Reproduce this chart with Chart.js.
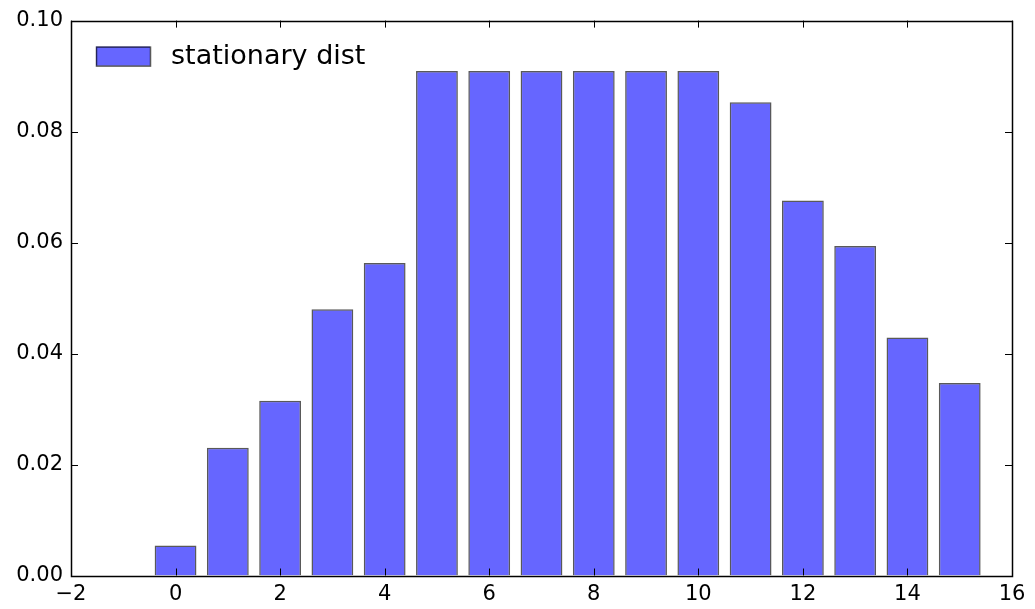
<!DOCTYPE html>
<html>
<head>
<meta charset="utf-8">
<script src="https://cdn.jsdelivr.net/npm/chart.js@4"></script>
<style>
  html, body { margin: 0; padding: 0; background: #ffffff; }
  #wrap { width: 1035px; height: 609px; }
</style>
</head>
<body>
<div id="wrap"><canvas id="c" width="1035" height="609"></canvas></div>
<script>
const categories = [0, 1, 2, 3, 4, 5, 6, 7, 8, 9, 10, 11, 12, 13, 14, 15];
const stationaryValues = [0.0054, 0.0230, 0.0315, 0.0480, 0.0563, 0.0909, 0.0909, 0.0909,
                          0.0909, 0.0909, 0.0909, 0.0853, 0.0676, 0.0594, 0.0429, 0.0347];
const seriesLabel = 'stationary dist';
const xTickValues = [-2, 0, 2, 4, 6, 8, 10, 12, 14, 16];
const yTickValues = [0.00, 0.02, 0.04, 0.06, 0.08, 0.10];

const FONT = '"DejaVu Sans", "Liberation Sans", sans-serif';

const framePlugin = {
  id: 'mplFrame',
  afterDraw(chart) {
    const ctx = chart.ctx;
    const a = chart.chartArea;
    const xs = chart.scales.x, ys = chart.scales.y;
    const L = 7;
    ctx.save();
    ctx.strokeStyle = '#000000';
    ctx.lineWidth = 1;
    ctx.beginPath();
    xs.ticks.forEach(t => {
      const px = Math.round(xs.getPixelForValue(t.value)) + 0.5;
      ctx.moveTo(px, a.bottom); ctx.lineTo(px, a.bottom - L);
      ctx.moveTo(px, a.top); ctx.lineTo(px, a.top + L);
    });
    ys.ticks.forEach(t => {
      const py = Math.round(ys.getPixelForValue(t.value)) + 0.5;
      ctx.moveTo(a.left, py); ctx.lineTo(a.left + L, py);
      ctx.moveTo(a.right, py); ctx.lineTo(a.right - L, py);
    });
    ctx.stroke();
    ctx.lineWidth = 1.5;
    ctx.strokeRect(Math.round(a.left) + 0.5, Math.round(a.top) + 0.5,
                   Math.round(a.right - a.left), Math.round(a.bottom - a.top));
    // legend (inside axes, upper left)
    const ds = chart.data.datasets[0];
    const bx = a.left + 25, by = a.top + 26, bw = 54, bh = 19;
    ctx.fillStyle = ds.backgroundColor;
    ctx.fillRect(bx, by, bw, bh);
    ctx.strokeStyle = ds.borderColor;
    ctx.lineWidth = 1.5;
    ctx.strokeRect(bx + 0.5, by + 0.5, bw, bh);
    ctx.fillStyle = '#000000';
    ctx.font = '27px ' + FONT;
    ctx.textBaseline = 'middle';
    ctx.textAlign = 'left';
    ctx.fillText(ds.label, bx + bw + 21, by + bh / 2 + 1);
    ctx.restore();
  }
};

new Chart(document.getElementById('c'), {
  type: 'bar',
  data: {
    datasets: [{
      label: seriesLabel,
      data: categories.map((c, i) => ({ x: c, y: stationaryValues[i] })),
      backgroundColor: 'rgba(0, 0, 255, 0.6)',
      borderColor: 'rgba(0, 0, 0, 0.65)',
      borderWidth: 1.5,
      categoryPercentage: 1.0,
      barPercentage: 0.8
    }]
  },
  options: {
    responsive: false,
    animation: false,
    devicePixelRatio: 1,
    layout: { padding: { left: 0, right: 23, top: 20, bottom: 0 } },
    plugins: {
      legend: { display: false },
      tooltip: { enabled: false }
    },
    scales: {
      x: {
        type: 'linear',
        offset: false,
        min: -2, max: 16,
        afterBuildTicks: s => { s.ticks = xTickValues.map(v => ({ value: v })); },
        afterFit: s => { s.height = 33.5; },
        grid: { display: false, drawTicks: false, offset: false },
        border: { display: false },
        ticks: {
          color: '#000000',
          padding: 6,
          maxRotation: 0,
          font: { family: FONT, size: 21 },
          callback: v => (v < 0 ? '\u2212' + Math.abs(v) : String(v))
        }
      },
      y: {
        type: 'linear',
        min: 0, max: 0.1,
        afterBuildTicks: s => { s.ticks = yTickValues.map(v => ({ value: v })); },
        afterFit: s => { s.width = 71; },
        grid: { display: false, drawTicks: false },
        border: { display: false },
        ticks: {
          color: '#000000',
          padding: 8,
          font: { family: FONT, size: 21 },
          callback: v => Number(v).toFixed(2)
        }
      }
    }
  },
  plugins: [framePlugin]
});
</script>
</body>
</html>
